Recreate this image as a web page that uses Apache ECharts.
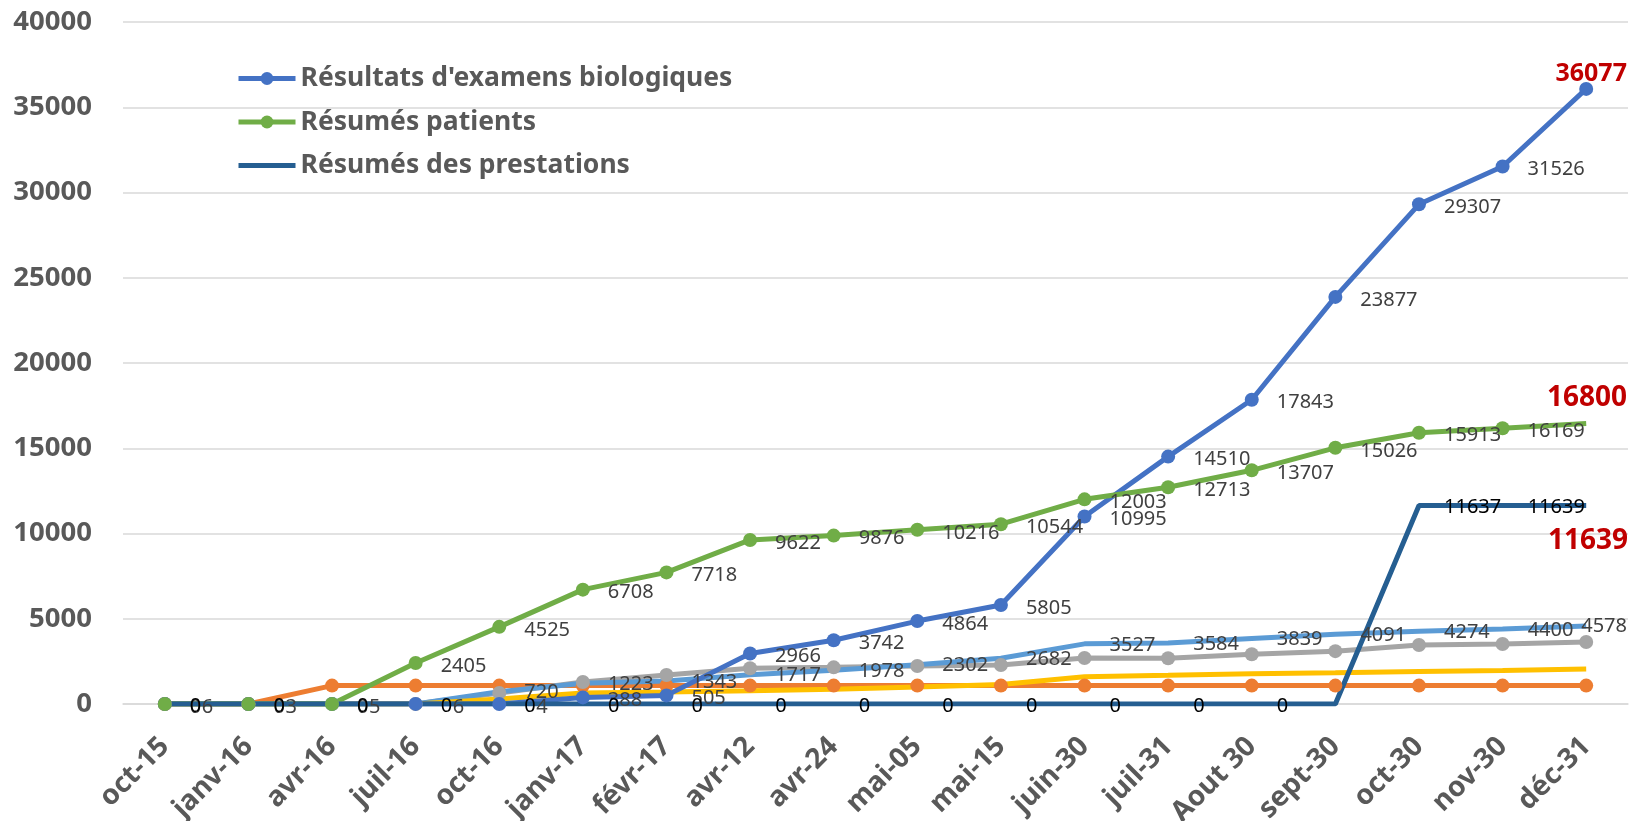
<!DOCTYPE html>
<html><head><meta charset="utf-8">
<script src="https://cdn.jsdelivr.net/npm/echarts@6/dist/echarts.min.js"></script>
<style>html,body{margin:0;padding:0;background:#fff}#c{width:1644px;height:821px}</style>
</head><body><div id="c"></div>
<script>
const categories = ['oct-15','janv-16','avr-16','juil-16','oct-16','janv-17','févr-17','avr-12','avr-24','mai-05','mai-15','juin-30','juil-31','Aout 30','sept-30','oct-30','nov-30','déc-31'];
const resultats = [6,3,5,6,4,388,505,2966,3742,4864,5805,10995,14510,17843,23877,29307,31526,36077];
const patients = [0,0,0,2405,4525,6708,7718,9622,9876,10216,10544,12003,12713,13707,15026,15913,16169,16450];
const prestations = [0,0,0,0,0,0,0,0,0,0,0,0,0,0,0,11637,11639,11639];
const orangeSeries = [0,0,1080,1080,1080,1080,1080,1080,1080,1080,1080,1080,1080,1080,1080,1080,1080,1080];
const graySeries = [0,0,0,0,650,1290,1700,2100,2150,2230,2290,2700,2680,2920,3100,3460,3520,3640];
const lightBlueSeries = [0,0,0,0,720,1223,1343,1717,1978,2302,2682,3527,3584,3839,4091,4274,4400,4578];
const yellowSeries = [0,0,0,0,300,650,700,780,870,1000,1150,1600,1680,1780,1830,1900,1960,2050];
const yTicks = [0,5000,10000,15000,20000,25000,30000,35000,40000];
const annotations = ['16800','11639'];

const chart = echarts.init(document.getElementById('c'));
const FONT = 'Noto Sans';
const lblBase = {show:true, position:'right', distance:18, offset:[0,3], color:'#404040', fontSize:20, fontFamily:FONT};

const blueData = resultats.map((v,i)=>{
  if (i < 5) return {value:v, label:{offset:[12,3]}};
  if (i === resultats.length-1) return {value:v, label:{position:'top', distance:0, offset:[5,4], color:'#C00000', fontWeight:'bold', fontSize:25}};
  return v;
});
const greenData = patients.map((v,i)=> i===patients.length-1 ? {value:v, symbol:'none', label:{show:false}} : v);
const lbData = lightBlueSeries.map((v,i)=>{
  if (i < 4) return {value:v, label:{show:false}};
  if (i === lightBlueSeries.length-1) return {value:v, label:{offset:[-30,0]}};
  return v;
});
const prestData = prestations.map((v,i)=> (i===14 || i===17) ? {value:v, label:{show:false}} : v);

chart.setOption({
  animation:false,
  backgroundColor:'#ffffff',
  grid:{left:123, right:16, top:22, bottom:117, outerBoundsMode:'none', containLabel:false},
  legend:{
    data:["Résultats d'examens biologiques","Résumés patients",
      {name:"Résumés des prestations", icon:'path://M0,0L57,0L57,5L0,5Z'}],
    orient:'vertical', left:231, top:60, itemWidth:57, itemHeight:16, itemGap:16.5,
    symbolKeepAspect:true,
    lineStyle:{width:5},
    textStyle:{fontSize:26.5, fontWeight:'bold', color:'#595959', fontFamily:FONT}
  },
  xAxis:{
    type:'category', data:categories, boundaryGap:true,
    axisTick:{show:false},
    axisLine:{show:true, lineStyle:{color:'#D9D9D9', width:1.5}},
    axisLabel:{rotate:45, margin:38, fontSize:28, fontWeight:'bold', color:'#595959', fontFamily:FONT, interval:0}
  },
  yAxis:{
    type:'value', min:yTicks[0], max:yTicks[yTicks.length-1], interval:yTicks[1]-yTicks[0],
    axisLine:{show:false}, axisTick:{show:false},
    splitLine:{lineStyle:{color:'#D9D9D9', width:1.5}},
    axisLabel:{margin:31, fontSize:27.5, fontWeight:'bold', color:'#595959', fontFamily:FONT, formatter:(v)=>String(v)}
  },
  series:[
    {name:'orange', type:'line', data:orangeSeries, symbol:'circle', symbolSize:14, showSymbol:true,
     itemStyle:{color:'#ED7D31'}, lineStyle:{width:5, color:'#ED7D31'}},
    {name:'gris', type:'line', data:graySeries, symbol:'circle', symbolSize:14, showSymbol:true,
     itemStyle:{color:'#A5A5A5'}, lineStyle:{width:5, color:'#A5A5A5'}},
    {name:'bleu clair', type:'line', data:lbData, symbol:'circle', symbolSize:0.1, showSymbol:true,
     itemStyle:{color:'#5B9BD5'}, lineStyle:{width:5, color:'#5B9BD5'},
     label:Object.assign({}, lblBase, {distance:25, offset:[0,1]})},
    {name:'jaune', type:'line', data:yellowSeries, symbol:'none',
     itemStyle:{color:'#FFC000'}, lineStyle:{width:5, color:'#FFC000'}},
    {name:"Résultats d'examens biologiques", type:'line', data:blueData, symbol:'circle', symbolSize:14, showSymbol:true,
     itemStyle:{color:'#4472C4'}, lineStyle:{width:5, color:'#4472C4'}, label:lblBase},
    {name:'Résumés patients', type:'line', data:greenData, symbol:'circle', symbolSize:14, showSymbol:true,
     itemStyle:{color:'#70AD47'}, lineStyle:{width:5, color:'#70AD47'}, label:lblBase},
    {name:'Résumés des prestations', type:'line', data:prestData, symbol:'circle', symbolSize:0.1, showSymbol:true,
     itemStyle:{color:'#255E91'}, lineStyle:{width:5, color:'#255E91'},
     label:Object.assign({}, lblBase, {distance:25, offset:[0,2], color:'#000000'})}
  ],
  graphic:[
    {type:'text', z:100, right:17, top:384, style:{text:annotations[0], fill:'#C00000', font:'bold 28px "Noto Sans"'}},
    {type:'text', z:100, right:16, top:527, style:{text:annotations[1], fill:'#C00000', font:'bold 28px "Noto Sans"'}}
  ]
});
</script></body></html>
